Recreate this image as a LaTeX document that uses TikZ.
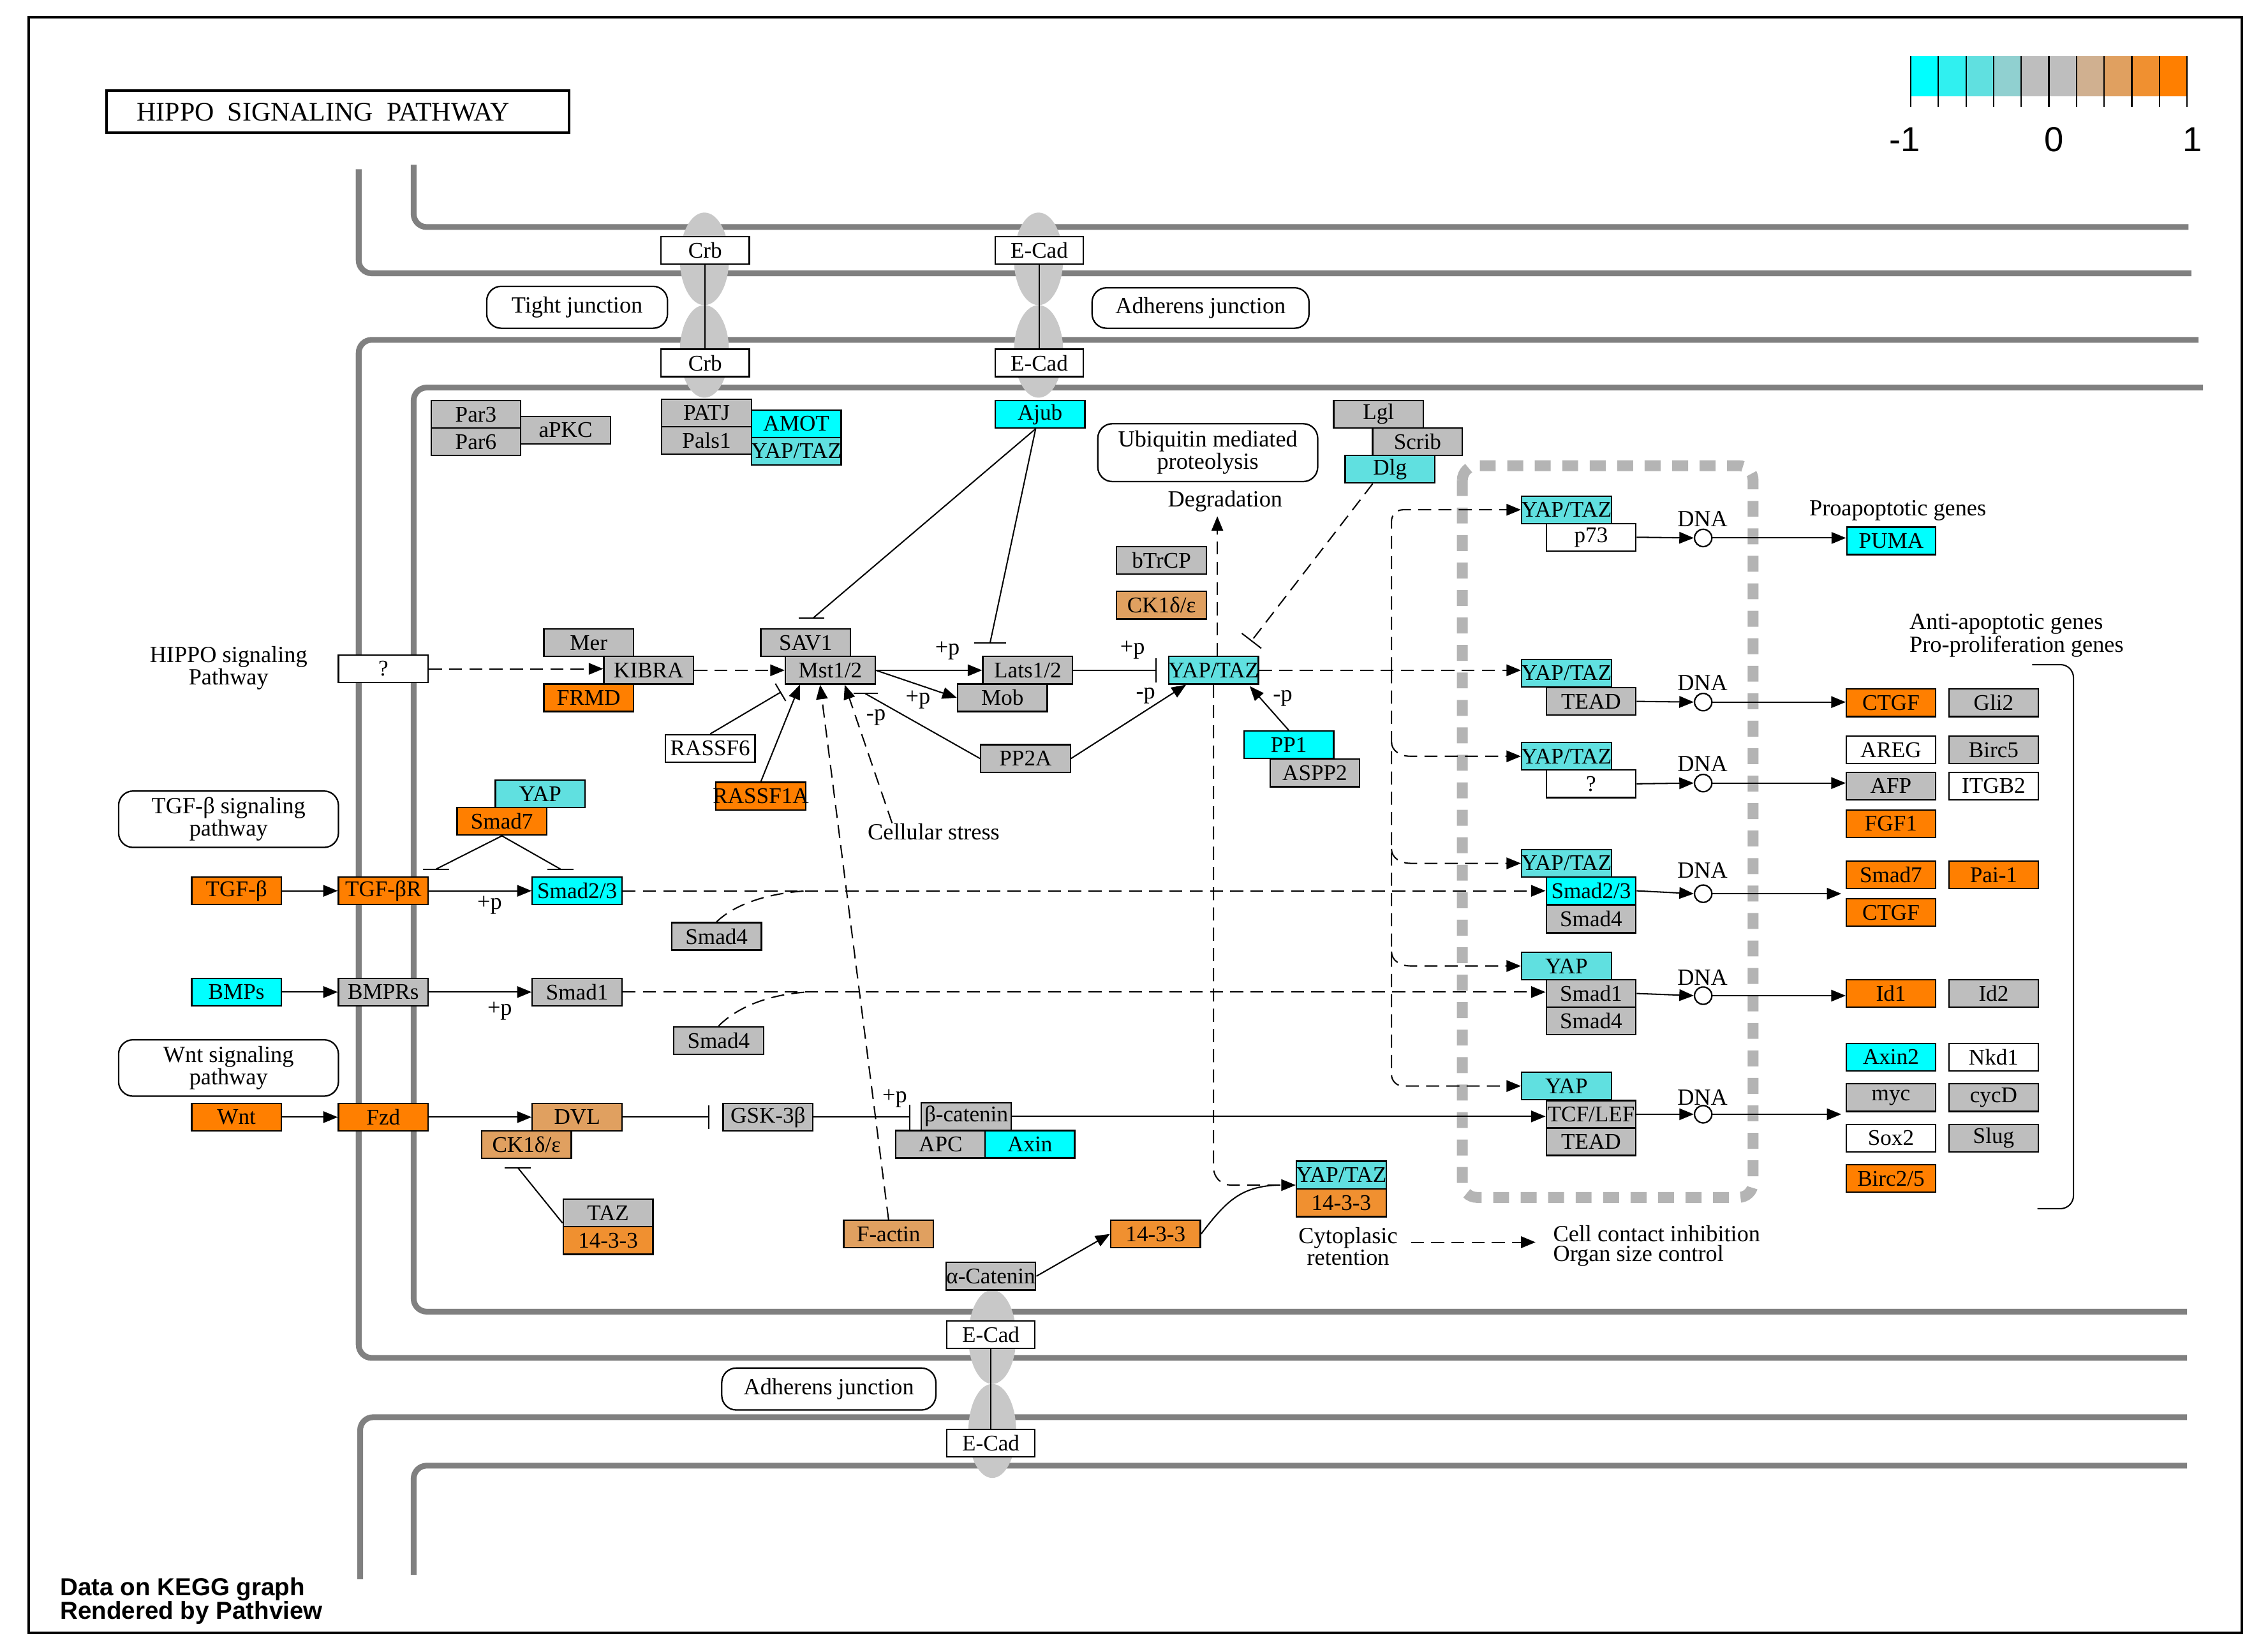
\documentclass[tikz,border=0pt]{standalone}
\usepackage{fontspec}
\setmainfont{Liberation Serif}
\newfontfamily\legfont{Liberation Sans}
\usetikzlibrary{arrows.meta,calc}

\definecolor{kcy}{HTML}{00FFFF}
\definecolor{kcym}{HTML}{60E0E0}
\definecolor{kgr}{HTML}{BEBEBE}
\definecolor{kor}{HTML}{FF7F00}
\definecolor{klo}{HTML}{E0A060}
\definecolor{kmo}{HTML}{F09030}
\definecolor{mem}{HTML}{808080}
\definecolor{jun}{HTML}{C8C8C8}
\definecolor{nuc}{HTML}{B4B4B4}
\definecolor{lgA}{HTML}{00FFFF}
\definecolor{lgB}{HTML}{30F0F0}
\definecolor{lgC}{HTML}{60E0E0}
\definecolor{lgD}{HTML}{90D0D0}
\definecolor{lgE}{HTML}{BEBEBE}
\definecolor{lgF}{HTML}{BEBEBE}
\definecolor{lgG}{HTML}{D0B090}
\definecolor{lgH}{HTML}{E0A060}
\definecolor{lgI}{HTML}{F09030}
\definecolor{lgJ}{HTML}{FF7F00}

\newcommand\gfont{\fontsize{15.5}{15.5}\selectfont}
\newcommand\lfont{\fontsize{16}{12.8}\selectfont}

\tikzset{
 gene/.style={draw,line width=1pt,minimum width=62pt,minimum height=19pt,inner sep=0pt,font=\gfont,fill=kgr,
   execute at begin node={\hbox to 0pt\bgroup\hss},execute at end node={\hss\egroup}},
 wh/.style={gene,fill=white},
 cy/.style={gene,fill=kcy},
 cym/.style={gene,fill=kcym},
 org/.style={gene,fill=kor},
 lor/.style={gene,fill=klo},
 mor/.style={gene,fill=kmo},
 lbl/.style={font=\lfont,align=center,inner sep=0pt},
 rbox/.style={draw,line width=1pt,rounded corners=10pt,font=\lfont,align=center,inner sep=0pt},
 dna/.style={circle,draw,line width=1pt,minimum size=12pt,inner sep=0pt,fill=white},
 conn/.style={line width=0.9pt},
 act/.style={conn,-{Triangle[length=10pt,width=8pt]}},
 dsh/.style={dash pattern=on 9pt off 5pt},
 inh/.style={conn,-{Bar[width=17pt]}},
 memb/.style={line width=4pt,draw=mem,rounded corners=9pt},
}

\begin{document}
\begin{tikzpicture}[x=1pt,y=-1pt]
\useasboundingbox (0,0) rectangle (1568,1142);
\fill[white] (0,0) rectangle (1568,1142);
\draw[line width=1.8pt] (20,12) rectangle (1550,1129);

% title
\draw[line width=2pt] (73.6,62.6) rectangle (393.5,91.7);
\node[anchor=west,inner sep=0pt,font=\fontsize{18.5}{18.5}\selectfont] (title) at (94.5,77.5) {HIPPO\ \ SIGNALING\ \ PATHWAY};

% legend
\foreach \c [count=\i] in {lgA,lgB,lgC,lgD,lgE,lgF,lgG,lgH,lgI,lgJ}
  \fill[\c] ({1321+(\i-1)*19.1},38.7) rectangle ++(19.1,27.8);
\foreach \i in {0,...,10}
  \draw[line width=1pt] ({1321+\i*19.1},38.7) -- ++(0,35.3);
\node[font=\legfont\fontsize{24}{24}\selectfont,inner sep=0pt] (lm) at (1317,96.5) {-1};
\node[font=\legfont\fontsize{24}{24}\selectfont,inner sep=0pt] (l0) at (1420,96.5) {0};
\node[font=\legfont\fontsize{24}{24}\selectfont,inner sep=0pt] (lp) at (1515.6,96.5) {1};

% footer
\node[anchor=west,align=left,inner sep=0pt,font=\legfont\bfseries\fontsize{17}{16.3}\selectfont] (foot) at (41.5,1107) {Data on KEGG graph\\Rendered by Pathview};

% nucleus
\draw[line width=7.5pt,draw=nuc,dash pattern=on 11pt off 8pt,rounded corners=10pt] (1011,322) rectangle (1212,828);

% membranes
\draw[memb] (286,114) -- (286,157) -- (1513,157);
\draw[memb] (248,117) -- (248,189) -- (1515,189);
\draw[memb] (1520,235) -- (248,235) -- (248,939) -- (1512,939);
\draw[memb] (1523,268) -- (286,268) -- (286,907) -- (1512,907);
\draw[memb] (1512,980) -- (249,980) -- (249,1092);
\draw[memb] (1512,1013.5) -- (286,1013.5) -- (286,1089);

% junction ellipses
\fill[jun] (487,179) ellipse [x radius=17pt,y radius=32pt];
\fill[jun] (487,243) ellipse [x radius=17pt,y radius=32pt];
\fill[jun] (718,179) ellipse [x radius=17pt,y radius=32pt];
\fill[jun] (718,243) ellipse [x radius=17pt,y radius=32pt];
\fill[jun] (686,924.5) ellipse [x radius=16.5pt,y radius=32.5pt];
\fill[jun] (686,989.5) ellipse [x radius=16.5pt,y radius=32.5pt];

% junction boxes
\node[wh,minimum width=61pt] (crb1) at (487.5,173) {Crb};
\node[wh,minimum width=61pt] (crb2) at (487.5,251) {Crb};
\node[wh,minimum width=61pt] (ecad1) at (718.5,173) {E-Cad};
\node[wh,minimum width=61pt] (ecad2) at (718.5,251) {E-Cad};
\node[wh,minimum width=61pt] (ecad3) at (685,923) {E-Cad};
\node[wh,minimum width=61pt] (ecad4) at (685,998) {E-Cad};
\draw[conn] (crb1.south) -- (crb2.north);
\draw[conn] (ecad1.south) -- (ecad2.north);
\draw[conn] (ecad3.south) -- (ecad4.north);

\node[rbox,minimum width=125pt,minimum height=29pt] (tjbox) at (399,212.5) {Tight junction};
\node[rbox,minimum width=150pt,minimum height=28pt] (ajbox1) at (830,213) {Adherens junction};
\node[rbox,minimum width=148pt,minimum height=29pt] (ajbox2) at (573,960.5) {Adherens junction};
\node[rbox,minimum width=152pt,minimum height=39pt] (tgfbox) at (158,566.5) {TGF-β signaling\\pathway};
\node[rbox,minimum width=152pt,minimum height=39pt] (wntbox) at (158,738.5) {Wnt signaling\\pathway};
\node[rbox,minimum width=152pt,minimum height=40pt] (ubox) at (835,313) {Ubiquitin mediated\\proteolysis};

% upper genes
\node[gene] (par3) at (329,286.5) {Par3};
\node[gene] (par6) at (329,305.5) {Par6};
\node[gene] (apkc) at (391,297.5) {aPKC};
\node[gene] (patj) at (488.5,285.5) {PATJ};
\node[gene] (pals1) at (488.5,304.5) {Pals1};
\node[cy] (amot) at (550.5,293) {AMOT};
\node[cym] (yt0) at (550.5,312) {YAP/TAZ};
\node[cy] (ajub) at (719,286.5) {Ajub};
\node[gene] (lgl) at (953,286.5) {Lgl};
\node[gene] (scrib) at (980,305.5) {Scrib};
\node[cym] (dlg) at (961,324.5) {Dlg};
\node[gene] (btrcp) at (803,387.5) {bTrCP};
\node[lor] (ck1a) at (803,418.5) {CK1δ/ε};

% hippo core
\node[lbl] (hippolbl) at (158,462) {HIPPO signaling\\Pathway};
\node[wh] (q1) at (265,462.5) {?};
\node[gene] (mer) at (407,444.5) {Mer};
\node[gene] (kibra) at (448.5,463.5) {KIBRA};
\node[org] (frmd) at (407,482.5) {FRMD};
\node[gene] (sav1) at (557,444.5) {SAV1};
\node[gene] (mst) at (574,463.5) {Mst1/2};
\node[gene] (lats) at (710.5,463.5) {Lats1/2};
\node[gene] (mob) at (693,482.5) {Mob};
\node[cym] (yaptaz) at (839,463.5) {YAP/TAZ};
\node[cy] (pp1) at (891,515) {PP1};
\node[gene] (aspp2) at (909,534.5) {ASPP2};
\node[gene] (pp2a) at (709,524.5) {PP2A};
\node[wh] (rassf6) at (491,517.5) {RASSF6};
\node[org] (rassf1a) at (526,550.5) {RASSF1A};
\node[lbl] (cs) at (645.5,575) {Cellular stress};
\node[lbl] (deg) at (847,346.5) {Degradation};
\coordinate (degtip) at (841.6,357);

% TGF / BMP / Wnt rows
\node[cym] (yap1) at (373.5,549) {YAP};
\node[org] (smad7a) at (347,568) {Smad7};
\node[org] (tgfb) at (163.5,616) {TGF-β};
\node[org] (tgfbr) at (265,616) {TGF-βR};
\node[cy] (smad23) at (399,616) {Smad2/3};
\node[gene] (smad4a) at (495.4,647.5) {Smad4};
\node[cy] (bmps) at (163.5,686) {BMPs};
\node[gene] (bmprs) at (265,686) {BMPRs};
\node[gene] (smad1) at (399,686) {Smad1};
\node[gene] (smad4b) at (496.8,719.5) {Smad4};
\node[org] (wnt) at (163.5,772.5) {Wnt};
\node[org] (fzd) at (265,772.5) {Fzd};
\node[lor] (dvl) at (399,772.5) {DVL};
\node[lor] (ck1b) at (364,791.5) {CK1δ/ε};
\node[gene] (taz) at (420.4,838.7) {TAZ};
\node[mor] (p1433a) at (420.4,857.8) {14-3-3};
\node[gene] (gsk) at (531,772.5) {GSK-3β};
\node[gene] (bcat) at (668,772) {β-catenin};
\node[gene] (apc) at (650.3,791.3) {APC};
\node[cy] (axin) at (712,791.3) {Axin};
\node[lor] (factin) at (614.3,853.3) {F-actin};
\node[gene] (acat) at (685,882.5) {α-Catenin};
\node[mor] (p1433b) at (798.9,853.3) {14-3-3};
\node[cym] (yaptazc) at (927.3,812.5) {YAP/TAZ};
\node[mor] (p1433c) at (927.3,831.8) {14-3-3};
\node[lbl] (ret) at (932,862) {Cytoplasic\\retention};
\node[lbl,anchor=west,align=left,font=\fontsize{16}{14}\selectfont] (cci) at (1073.6,861.5) {Cell contact inhibition\\Organ size control};

% nucleus complexes
\node[cym] (n1y) at (1083,352.5) {YAP/TAZ};
\node[wh] (p73) at (1100,371.5) {p73};
\node[cym] (n2y) at (1083,465.5) {YAP/TAZ};
\node[gene] (tead1) at (1100,485) {TEAD};
\node[cym] (n3y) at (1083,523) {YAP/TAZ};
\node[wh] (q2) at (1100,542) {?};
\node[cym] (n4y) at (1083,597) {YAP/TAZ};
\node[cy] (smad23n) at (1100,616) {Smad2/3};
\node[gene] (smad4n) at (1100,635.5) {Smad4};
\node[cym] (n5y) at (1083,668) {YAP};
\node[gene] (smad1n) at (1100,687) {Smad1};
\node[gene] (smad4n2) at (1100,706) {Smad4};
\node[cym] (n6y) at (1083,751) {YAP};
\node[gene] (tcf) at (1100,770.5) {TCF/LEF};
\node[gene] (tead2) at (1100,789.5) {TEAD};

\node[dna] (d1) at (1177.5,372) {};
\node[dna] (d2) at (1177.5,485.5) {};
\node[dna] (d3) at (1177.5,541.5) {};
\node[dna] (d4) at (1177.5,618) {};
\node[dna] (d5) at (1177.5,688.5) {};
\node[dna] (d6) at (1177.5,770.5) {};
\node[lbl] (dl1) at (1177,359) {DNA};
\node[lbl] (dl2) at (1177,472) {DNA};
\node[lbl] (dl3) at (1177,528) {DNA};
\node[lbl] (dl4) at (1177,602) {DNA};
\node[lbl] (dl5) at (1177,676) {DNA};
\node[lbl] (dl6) at (1177,759) {DNA};

% target genes
\node[lbl] (pro) at (1312,353) {Proapoptotic genes};
\node[lbl,anchor=west,align=left] (anti) at (1320,439.5) {Anti-apoptotic genes\\Pro-proliferation genes};
\node[cy,minimum width=61.5pt] (puma) at (1307.5,374) {PUMA};
\node[org,minimum width=61.5pt] (ctgf1) at (1307.3,486) {CTGF};
\node[gene] (gli2) at (1378.3,486) {Gli2};
\node[wh,minimum width=61.5pt] (areg) at (1307.3,518.5) {AREG};
\node[gene] (birc5) at (1378.3,518.5) {Birc5};
\node[gene,minimum width=61.5pt] (afp) at (1307.3,543.5) {AFP};
\node[wh] (itgb2) at (1378.3,543.5) {ITGB2};
\node[org,minimum width=61.5pt] (fgf1) at (1307.3,569.5) {FGF1};
\node[org,minimum width=61.5pt] (smad7b) at (1307.3,605) {Smad7};
\node[org] (pai1) at (1378.3,605) {Pai-1};
\node[org,minimum width=61.5pt] (ctgf2) at (1307.3,631) {CTGF};
\node[org,minimum width=61.5pt] (id1) at (1307.3,687) {Id1};
\node[gene] (id2) at (1378.3,687) {Id2};
\node[cy,minimum width=61.5pt] (axin2) at (1307.3,731) {Axin2};
\node[wh] (nkd1) at (1378.3,731) {Nkd1};
\node[gene,minimum width=61.5pt] (myc) at (1307.3,759) {myc};
\node[gene] (cycd) at (1378.3,759) {cycD};
\node[wh,minimum width=61.5pt] (sox2) at (1307.3,787) {Sox2};
\node[gene] (slug) at (1378.3,787) {Slug};
\node[org,minimum width=61.5pt] (birc25) at (1307.3,815) {Birc2/5};
\draw[conn,rounded corners=9pt] (1405,459.6) -- (1433.5,459.6) -- (1433.5,835.8) -- (1408.6,835.8);
\coordinate (t4) at (1273,618);
\coordinate (t6) at (1273,770.5);

% p labels
\node[lbl] (pl1) at (655,450) {+p};
\node[lbl] (pl2) at (634.7,483.7) {+p};
\node[lbl] (pl3) at (605.6,496) {-p};
\node[lbl] (pl4) at (783,449.4) {+p};
\node[lbl] (pl5) at (792,481) {-p};
\node[lbl] (pl6) at (886.8,482.8) {-p};
\node[lbl] (pl7) at (338.5,626) {+p};
\node[lbl] (pl8) at (345.5,699) {+p};
\node[lbl] (pl9) at (618.6,759.5) {+p};

% ---- connectors ----
\draw[act,dsh] (q1.east) -- (q1.east -| kibra.west);
\draw[act,dsh] (kibra.east) -- (mst.west);
\draw[act] (mst.east) -- (lats.west);
\draw[act] (mst.east) -- (mob.west);
\draw[inh,shorten >=8pt] (lats.east) -- (yaptaz.west);
\draw[act] (pp2a.east) -- ($(yaptaz.south)+(-19,0)$);
\draw[conn] (pp2a.west) -- ($(mst.south)+(24,6)$);
\draw[conn] ($(mst.south)+(16,6)$) -- ($(mst.south)+(33,6)$);
\draw[act] (pp1.north) -- ($(yaptaz.south)+(25,1)$);
\draw[inh,dsh] ($(dlg.south)+(-12,0)$) -- ($(yaptaz.north)+(26,-10)$);
\draw[conn] ($(ajub.south)+(-3,0)$) -- ($(sav1.north)+(5,-7)$);
\draw[conn] ($(sav1.north)+(-5,-7)$) -- ($(sav1.north)+(13,-7)$);
\draw[conn] ($(ajub.south)+(-3,0)$) -- ($(lats.north)+(-26,-9)$);
\draw[conn] ($(lats.north)+(-37,-9)$) -- ($(lats.north)+(-15,-9)$);
\draw[act,dsh] ($(yaptaz.north)+(2.6,0)$) -- (degtip);

\draw[act,dsh] (factin.north) -- ($(mst.south)+(-7,0)$);
\draw[act] (rassf1a.north) -- ($(mst.south)+(-21,0)$);
\draw[act,dsh] ($(cs.north west)+(17,0)$) -- ($(mst.south)+(10,0)$);
\draw[conn,-{Bar[width=14pt]}] (rassf6.north) -- ($(mst.south west)+(-2.5,5)$);

% trunk to nucleus
\coordinate (tjn) at (962,463.5);
\draw[act,dsh] (yaptaz.east) -- (yaptaz.east -| n2y.west);
\draw[act,dsh,rounded corners=8pt] (tjn) -- (962,352.5) -- (n1y.west);
\draw[act,dsh,rounded corners=8pt] (tjn) -- (962,751) -- (n6y.west);
\draw[act,dsh] (962,513) to[out=-90,in=180] (975,523) -- (n3y.west);
\draw[act,dsh] (962,587) to[out=-90,in=180] (975,597) -- (n4y.west);
\draw[act,dsh] (962,658) to[out=-90,in=180] (975,668) -- (n5y.west);

\draw[act,dsh,rounded corners=12pt] (yaptaz.south) -- ($(yaptaz.south |- yaptazc.west)+(0,7)$) -- ($(yaptazc.west)+(0,7)$);
\draw[conn] (p1433b.east) .. controls (848,830) and (858,821) .. (882,819.5);
\draw[act] (acat.east) -- (p1433b.west);
\draw[act,dsh] ($(ret.east)+(9,-3)$) -- ($(cci.west)+(-12,-2.5)$);

% TGF / BMP / Wnt
\draw[act] (tgfb.east) -- (tgfbr.west);
\draw[act] (tgfbr.east) -- (smad23.west);
\draw[conn] (smad7a.south) -- ($(tgfbr.north east)+(5,-5)$);
\draw[conn] ($(tgfbr.north east)+(-4,-5)$) -- ($(tgfbr.north east)+(14,-5)$);
\draw[conn] (smad7a.south) -- ($(smad23.north west)+(20,-5)$);
\draw[conn] ($(smad23.north west)+(11,-5)$) -- ($(smad23.north west)+(29,-5)$);
\draw[act,dsh] (smad23.east) -- (smad23n.west);
\draw[conn,dsh] (smad4a.north) .. controls (505,628) and (525,618) .. (558,616);
\draw[act] (bmps.east) -- (bmprs.west);
\draw[act] (bmprs.east) -- (smad1.west);
\draw[act,dsh] (smad1.east) -- (smad1.east -| smad1n.west);
\draw[conn,dsh] (smad4b.north) .. controls (507,699) and (527,688) .. (558,686);
\draw[act] (wnt.east) -- (fzd.west);
\draw[act] (fzd.east) -- (dvl.west);
\draw[conn,-{Bar[width=16pt]},shorten >=9pt] (dvl.east) -- (gsk.west);
\draw[conn,-{Bar[width=17pt]},shorten >=7pt] (gsk.east) -- (gsk.east -| bcat.west);
\draw[act] (bcat.east) -- (bcat.east -| tcf.west);
\draw[conn] ($(taz.south west)+(0,-3)$) -- ($(ck1b.south)+(-6,6)$);
\draw[conn] ($(ck1b.south)+(-15,6)$) -- ($(ck1b.south)+(3,6)$);

% nucleus to DNA to targets
\draw[act] (p73.east) -- (d1.west);
\draw[act] (d1.east) -- (d1.east -| puma.west);
\draw[act] (tead1.east) -- (d2.west);
\draw[act] (d2.east) -- (d2.east -| ctgf1.west);
\draw[act] (q2.east) -- (d3.west);
\draw[act] (d3.east) -- (d3.east -| afp.west);
\draw[act] (smad23n.east) -- (d4.west);
\draw[act] (d4.east) -- (t4);
\draw[act] (smad1n.east) -- (d5.west);
\draw[act] (d5.east) -- (d5.east -| id1.west);
\draw[act] (tcf.east) -- (d6.west);
\draw[act] (d6.east) -- (t6);
\end{tikzpicture}
\end{document}
